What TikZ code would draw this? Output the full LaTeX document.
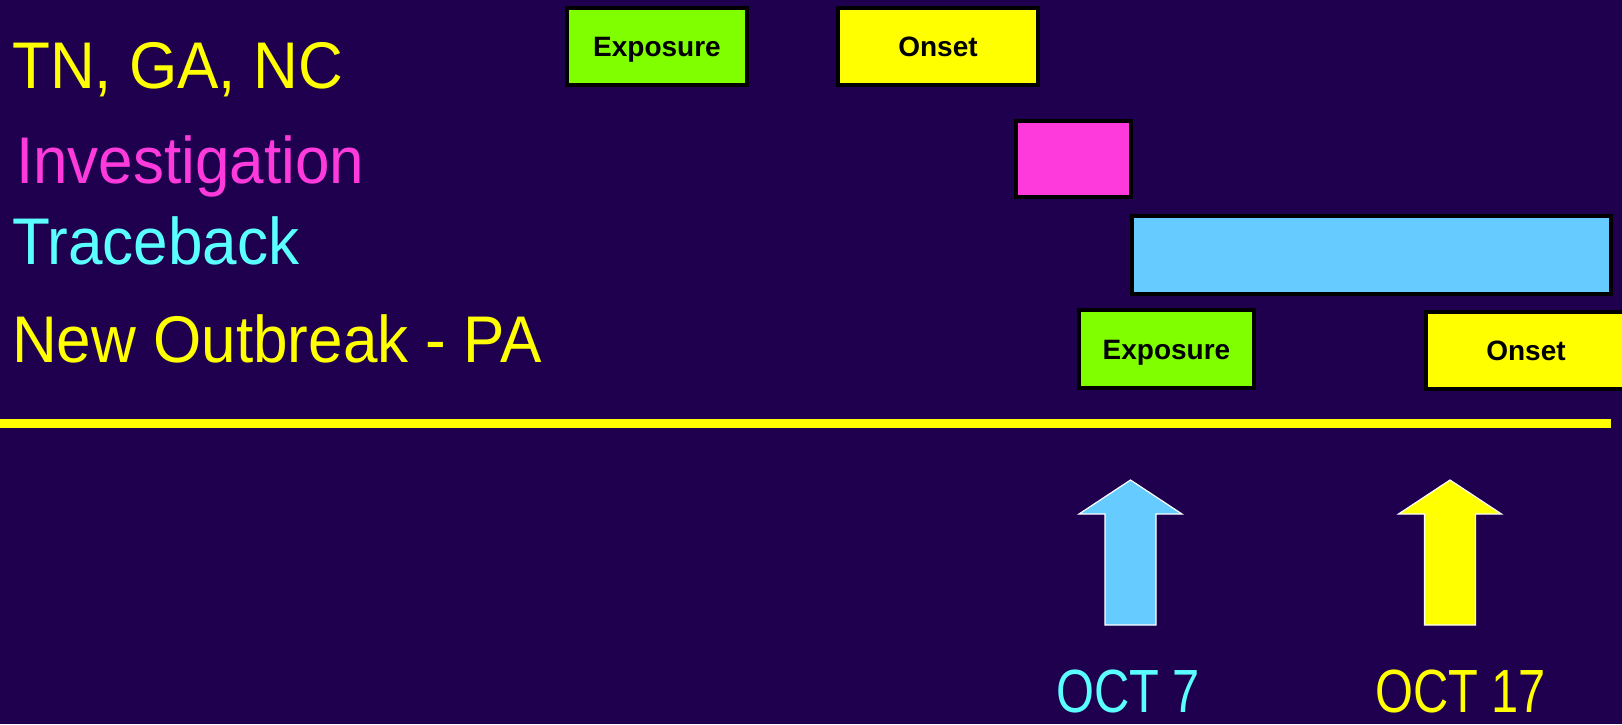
\documentclass[tikz,border=0pt]{standalone}
\usepackage{fontspec}
\setmainfont{Liberation Sans}[FakeStretch=0.94]
\newfontfamily\datefont{Liberation Sans}[FakeStretch=0.8]
\newfontfamily\boxfont{Liberation Sans}
\usepackage{tikz}
\usetikzlibrary{positioning}

\definecolor{slidebg}{RGB}{31,0,79}
\definecolor{lime}{RGB}{128,255,0}
\definecolor{sunyellow}{RGB}{255,255,0}
\definecolor{hotpink}{RGB}{255,58,220}
\definecolor{skyblue}{RGB}{102,204,255}
\definecolor{aqua}{RGB}{90,255,255}

\tikzset{
  rowlabel/.style={anchor=base west,inner sep=0pt,font=\fontsize{66}{66}\selectfont},
  phasebox/.style={draw=black,line width=3.5pt,inner sep=0pt,text height=20pt,text depth=0pt,
    font=\boxfont\bfseries\fontsize{28}{28}\selectfont},
  datelabel/.style={anchor=base west,inner sep=0pt,font=\datefont\fontsize{61}{61}\selectfont},
  bigarrow/.style={draw=white,line width=1.2pt}
}

\begin{document}
\begin{tikzpicture}[x=1pt,y=-1pt]
\fill[slidebg] (0,0) rectangle (1622,724);
\useasboundingbox (0,0) rectangle (1622,724);

% Row labels
\node[rowlabel,text=sunyellow] (tnganc) at (12,88) {TN, GA, NC};
\node[rowlabel,text=hotpink] (invest) at (16,183) {Investigation};
\node[rowlabel,text=aqua] (trace) at (12,264) {Traceback};
\node[rowlabel,text=sunyellow] (newpa) at (12,362) {New Outbreak - PA};

% Timeline bars
\node[phasebox,fill=lime,minimum width=180,minimum height=77] (expo1) at (657,46.5) {Exposure};
\node[phasebox,fill=sunyellow,minimum width=200,minimum height=77] (onset1) at (938,46.5) {Onset};
\node[phasebox,fill=hotpink,minimum width=115,minimum height=76] (investbar) at (1073.5,159) {};
\node[phasebox,fill=skyblue,minimum width=479,minimum height=78] (tracebar) at (1371.5,255) {};
\node[phasebox,fill=lime,minimum width=175,minimum height=78] (expo2) at (1166.5,349) {Exposure};
\node[phasebox,fill=sunyellow,minimum width=200,minimum height=77] (onset2) at (1526,350.5) {Onset};

% Time axis
\coordinate (axisstart) at (0,423.5);
\coordinate (axisend) at (1611,423.5);
\draw[sunyellow,line width=9pt] (axisstart) -- (axisend);

% Date arrows
\begin{scope}[xshift=1130.5pt]
\draw[bigarrow,fill=skyblue] (0,480) -- (51.5,514) -- (25.5,514) -- (25.5,625)
  -- (-25.5,625) -- (-25.5,514) -- (-51.5,514) -- cycle;
\end{scope}
\begin{scope}[xshift=1450pt]
\draw[bigarrow,fill=sunyellow] (0,480) -- (51.5,514) -- (25.5,514) -- (25.5,625)
  -- (-25.5,625) -- (-25.5,514) -- (-51.5,514) -- cycle;
\end{scope}

\node[datelabel,text=aqua] (oct7) at (1056,712) {OCT 7};
\node[datelabel,text=sunyellow] (oct17) at (1375,712) {OCT 17};
\end{tikzpicture}
\end{document}
